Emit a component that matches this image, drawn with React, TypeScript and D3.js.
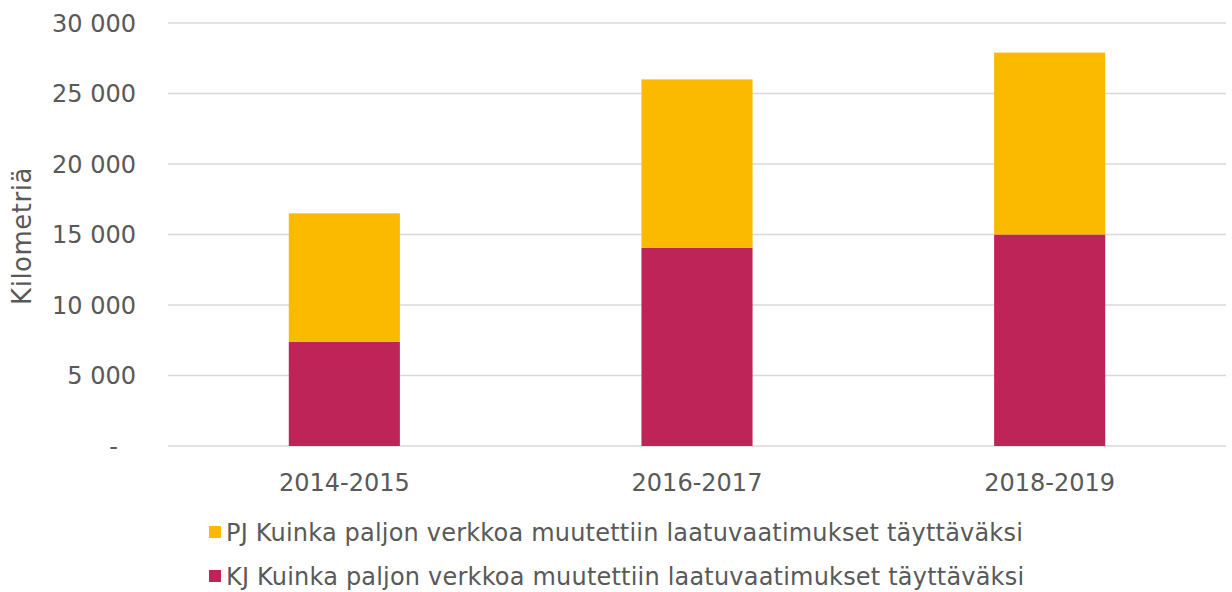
import React from "react";
import * as d3 from "d3";

const categories = ["2014-2015", "2016-2017", "2018-2019"];
const kjValues = [7400, 14050, 15000];
const pjValues = [9100, 11950, 12900];
const yTicks = [0, 5000, 10000, 15000, 20000, 25000, 30000];
const yTickLabels = ["-", "5 000", "10 000", "15 000", "20 000", "25 000", "30 000"];
const legendLabels = [
  "PJ Kuinka paljon verkkoa muutettiin laatuvaatimukset täyttäväksi",
  "KJ Kuinka paljon verkkoa muutettiin laatuvaatimukset täyttäväksi",
];
const yTitle = "Kilometriä";

const W = 1232;
const H = 592;
const FONT = "Verdana, 'DejaVu Sans', sans-serif";
const TEXT = "#595959";
const PJ_COLOR = "#FBB900";
const KJ_COLOR = "#BE2457";

export default function App() {
  const left = 168, right = 1226, top = 23, bottom = 446;
  const x = d3.scaleBand<string>().domain(categories).range([left, right]).paddingInner(0.685).paddingOuter(0.3425);
  const y = d3.scaleLinear().domain([0, 30000]).range([bottom, top]);

  const stackData = categories.map((c, i) => ({ cat: c, kj: kjValues[i], pj: pjValues[i] }));
  const series = d3.stack<any>().keys(["kj", "pj"])(stackData);
  const colors: Record<string, string> = { kj: KJ_COLOR, pj: PJ_COLOR };

  return (
    <svg width={W} height={H} style={{ position: "absolute", left: 0, top: 0, background: "#fff" }}>
      {yTicks.map((t, i) => (
        <g key={t}>
          <line x1={left} x2={right} y1={y(t)} y2={y(t)} stroke="#d9d9d9" strokeWidth={1.5} />
          <text
            x={i === 0 ? 118 : 136}
            y={y(t)}
            dy="0.36em"
            textAnchor="end"
            fontFamily={FONT}
            fontSize={24}
            fill={TEXT}
          >
            {yTickLabels[i]}
          </text>
        </g>
      ))}
      {series.map((s) =>
        s.map((d, j) => (
          <rect
            key={s.key + j}
            x={x(d.data.cat)}
            width={x.bandwidth()}
            y={y(d[1])}
            height={y(d[0]) - y(d[1])}
            fill={colors[s.key]}
          />
        ))
      )}
      {categories.map((c) => (
        <text
          key={c}
          x={(x(c) as number) + x.bandwidth() / 2}
          y={491}
          textAnchor="middle"
          fontFamily={FONT}
          fontSize={24}
          fill={TEXT}
        >
          {c}
        </text>
      ))}
      <text
        transform={`translate(31, 236) rotate(-90)`}
        textAnchor="middle"
        fontFamily={FONT}
        fontSize={26}
        letterSpacing={0.5}
        fill={TEXT}
      >
        {yTitle}
      </text>
      {legendLabels.map((l, i) => (
        <g key={l} transform={`translate(209, ${526 + i * 44})`}>
          <rect x={0} y={0} width={12} height={12} fill={i === 0 ? PJ_COLOR : KJ_COLOR} />
          <text x={17} y={6} dy="0.36em" fontFamily={FONT} fontSize={24} letterSpacing={0.2} fill={TEXT}>
            {l}
          </text>
        </g>
      ))}
    </svg>
  );
}
